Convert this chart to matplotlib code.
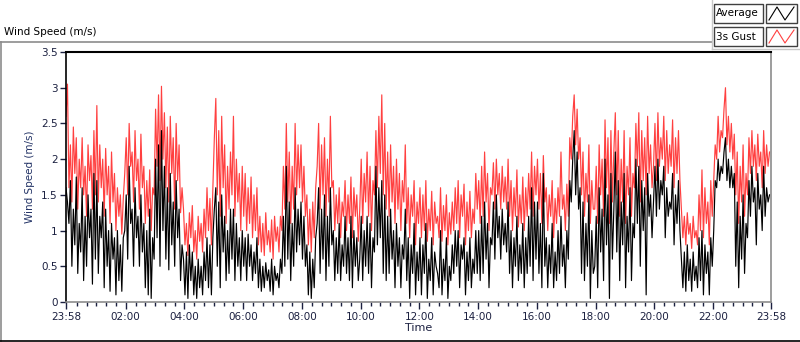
import numpy as np
import matplotlib.pyplot as plt
from matplotlib.patches import Rectangle
from matplotlib.lines import Line2D

# valeurs : un point toutes les 3 min depuis 23:58
# (une ligne = 30 min, 4 lignes = 2 h)
gust = [
    2.6, 3.05, 1.6, 2.2, 1.4, 2.45, 1.8, 2.3, 1.3, 2.0,
    1.6, 2.3, 1.5, 1.9, 1.2, 2.2, 1.7, 2.05, 1.3, 2.4,
    1.5, 2.75, 1.4, 2.2, 1.6, 2.0, 1.2, 2.15, 1.5, 1.9,
    1.1, 2.1, 1.4, 1.8, 1.0, 1.6, 1.2, 1.5, 0.95, 1.45,
    # 02:00
    1.8, 2.3, 1.5, 2.5, 1.9, 2.1, 1.4, 2.4, 1.7, 2.0,
    1.3, 2.35, 1.6, 1.9, 1.1, 1.7, 1.2, 1.85, 1.0, 1.6,
    1.5, 2.7, 1.9, 2.9, 1.7, 3.02, 2.0, 2.65, 1.6, 2.45,
    1.4, 2.6, 1.8, 2.3, 1.3, 2.5, 1.7, 2.2, 1.25, 1.6,
    # 04:00
    1.3, 0.8, 1.1, 0.65, 1.25, 0.9, 1.35, 0.7, 1.0, 0.6,
    1.2, 0.85, 1.1, 0.7, 1.3, 0.9, 1.6, 1.0, 1.45, 0.8,
    1.6, 2.3, 2.85, 1.5, 2.4, 1.2, 2.6, 1.6, 2.2, 1.1,
    1.9, 1.3, 2.1, 1.5, 2.6, 1.2, 2.0, 1.4, 1.8, 1.0,
    # 06:00
    1.9, 1.2, 1.8, 1.0, 1.6, 1.1, 1.75, 0.9, 1.5, 1.0,
    1.6, 0.8, 1.2, 0.7, 1.1, 0.65, 1.25, 0.8, 1.0, 0.7,
    1.15, 0.6, 1.2, 0.85, 1.05, 0.7, 1.2, 1.0, 1.9, 1.3,
    2.5, 1.4, 2.1, 1.1, 1.9, 1.3, 2.5, 1.5, 2.2, 1.6,
    # 08:00
    2.2, 1.4, 1.9, 1.2, 1.5, 0.8, 1.3, 0.7, 1.4, 0.9,
    1.6, 1.9, 2.5, 1.3, 2.2, 1.5, 2.3, 1.2, 2.0, 1.4,
    2.6, 1.6, 1.7, 1.0, 1.5, 1.1, 1.6, 0.9, 1.4, 1.2,
    1.7, 1.0, 1.5, 1.1, 1.75, 0.9, 1.6, 1.2, 1.5, 0.85,
    # 10:00
    1.3, 2.0, 1.1, 1.8, 1.4, 2.1, 1.2, 1.9, 1.0, 1.7,
    1.5, 2.4, 1.6, 2.6, 1.8, 2.9, 1.5, 2.5, 1.3, 2.1,
    1.2, 2.2, 1.4, 1.9, 1.1, 2.0, 1.3, 1.8, 1.0, 1.7,
    1.4, 2.2, 1.1, 1.6, 0.9, 1.5, 1.2, 1.7, 0.8, 1.4,
    # 12:00
    1.1, 1.6, 0.9, 1.5, 1.0, 1.7, 0.85, 1.3, 1.0, 1.55,
    0.8, 1.4, 1.1, 1.2, 0.9, 1.6, 0.85, 1.35, 1.0, 1.5,
    0.8, 1.25, 0.95, 1.4, 1.0, 1.6, 1.1, 1.7, 0.9, 1.5,
    1.2, 1.65, 0.8, 1.4, 1.0, 1.55, 0.9, 1.3, 1.1, 1.8,
    # 14:00
    1.3, 1.7, 1.1, 1.9, 1.2, 2.1, 1.4, 1.8, 1.0, 1.6,
    1.5, 1.95, 1.3, 2.0, 1.5, 1.8, 1.3, 1.9, 1.4, 1.75,
    1.3, 2.0, 1.2, 1.7, 1.0, 1.6, 1.2, 1.85, 1.05, 1.5,
    1.1, 1.75, 1.0, 1.6, 1.2, 1.8, 1.3, 2.1, 1.2, 1.9,
    # 16:00
    1.5, 2.0, 1.3, 1.8, 1.1, 2.05, 1.4, 1.6, 1.0, 1.5,
    1.2, 1.7, 0.9, 1.45, 1.1, 1.6, 1.2, 2.1, 1.3, 1.5,
    1.0, 1.65, 1.2, 2.3, 2.0, 2.6, 2.9, 2.2, 2.7, 2.0,
    2.3, 1.5, 2.1, 1.2, 1.8, 1.4, 2.2, 1.1, 1.7, 1.3,
    # 18:00
    1.3, 1.9, 1.1, 2.2, 1.5, 2.0, 1.2, 2.55, 1.6, 2.3,
    1.1, 2.4, 1.4, 2.1, 2.65, 1.5, 2.4, 1.2, 2.0, 1.4,
    2.4, 1.1, 1.9, 1.5, 2.3, 1.2, 1.8, 1.6, 2.5, 1.9,
    2.65, 1.4, 2.4, 1.7, 2.3, 1.5, 2.6, 1.8, 2.2, 1.6,
    # 20:00
    1.9, 2.5, 1.7, 2.65, 1.9, 2.3, 2.0, 2.6, 1.7, 2.4,
    1.8, 2.2, 1.9, 2.55, 1.6, 2.3, 1.8, 2.4, 1.7, 1.3,
    0.9, 1.2, 0.8, 1.25, 0.95, 1.1, 0.75, 1.2, 0.9, 1.0,
    0.8, 1.5, 1.0, 1.85, 0.9, 1.6, 1.1, 1.4, 0.8, 1.7,
    # 22:00
    1.2, 1.7, 2.2, 2.0, 2.6, 2.1, 2.4, 2.3, 2.7, 3.0,
    2.2, 2.6, 2.1, 2.5, 2.0, 2.35, 1.5, 2.1, 1.1, 1.9,
    1.4, 2.2, 1.2, 1.8, 1.5, 2.3, 1.8, 2.4, 1.9, 2.2,
    1.7, 2.35, 1.9, 2.1, 1.6, 2.4, 1.8, 2.2, 1.9, 2.1,
]

average = [
    1.6, 1.4, 1.1, 1.7, 0.5, 1.3, 0.8, 1.75, 0.4, 1.1,
    0.7, 1.6, 0.3, 1.2, 0.5, 1.5, 0.9, 1.3, 0.25, 1.8,
    0.6, 1.7, 0.4, 1.2, 0.9, 1.4, 0.2, 1.3, 0.5, 1.0,
    0.15, 1.1, 0.6, 0.9, 0.1, 1.0, 0.3, 0.8, 0.15, 0.9,
    # 02:00
    1.0, 1.5, 0.6, 1.9, 1.1, 1.3, 0.5, 1.6, 0.9, 1.2,
    0.5, 1.5, 0.7, 1.1, 0.2, 1.0, 0.1, 1.3, 0.05, 0.9,
    0.6, 2.0, 0.9, 2.2, 0.5, 2.4, 1.0, 1.9, 0.6, 1.6,
    0.45, 1.8, 0.8, 1.4, 0.5, 1.7, 0.9, 1.3, 0.3, 0.8,
    # 04:00
    0.6, 0.1, 0.7, 0.05, 0.8, 0.3, 0.7, 0.1, 0.5, 0.05,
    0.6, 0.2, 0.5, 0.1, 0.7, 0.3, 0.9, 0.2, 0.8, 0.1,
    0.9, 1.3, 1.6, 0.5, 1.4, 0.2, 1.5, 0.7, 1.2, 0.3,
    1.0, 0.4, 1.3, 0.6, 1.3, 0.3, 1.1, 0.5, 0.9, 0.3,
    # 06:00
    1.0, 0.5, 0.9, 0.3, 0.95, 0.5, 0.8, 0.3, 0.7, 0.4,
    0.9, 0.2, 0.6, 0.15, 0.5, 0.2, 0.55, 0.3, 0.45, 0.15,
    0.6, 0.1, 0.5, 0.3, 0.4, 0.2, 0.6, 0.4, 1.2, 0.5,
    1.9, 0.6, 1.4, 0.3, 1.1, 0.5, 1.6, 0.7, 1.3, 0.8,
    # 08:00
    1.4, 0.6, 1.2, 0.5, 0.8, 0.1, 0.7, 0.05, 0.6, 0.2,
    0.9, 1.1, 1.6, 0.4, 1.3, 0.6, 1.5, 0.3, 1.2, 0.5,
    1.6, 0.8, 1.0, 0.3, 0.9, 0.4, 1.1, 0.3, 0.8, 0.5,
    1.2, 0.4, 0.9, 0.3, 1.2, 0.2, 1.0, 0.5, 0.9, 0.3,
    # 10:00
    0.6, 1.2, 0.3, 1.0, 0.5, 1.2, 0.4, 1.1, 0.2, 0.9,
    0.7, 1.9, 0.8, 1.6, 0.9, 1.7, 0.4, 1.5, 0.3, 1.2,
    0.4, 1.3, 0.6, 1.0, 0.2, 1.1, 0.5, 0.9, 0.2, 0.8,
    0.6, 1.3, 0.3, 0.9, 0.05, 0.8, 0.4, 1.1, 0.1, 0.7,
    # 12:00
    0.3, 0.9, 0.1, 0.8, 0.4, 1.1, 0.05, 0.6, 0.3, 0.9,
    0.1, 0.7, 0.5, 0.4, 0.2, 1.0, 0.1, 0.6, 0.3, 0.9,
    0.05, 0.5, 0.3, 0.8, 0.4, 1.0, 0.5, 1.0, 0.2, 0.8,
    0.6, 0.9, 0.1, 0.7, 0.3, 0.9, 0.2, 0.6, 0.4, 1.0,
    # 14:00
    0.4, 1.0, 0.3, 1.2, 0.4, 1.4, 0.6, 1.1, 0.2, 0.9,
    0.8, 1.4, 0.6, 1.5, 0.9, 1.2, 0.6, 1.3, 0.8, 1.1,
    0.7, 1.4, 0.4, 1.0, 0.2, 0.9, 0.5, 1.2, 0.3, 0.8,
    0.4, 1.1, 0.2, 0.9, 0.4, 1.2, 0.5, 1.6, 0.3, 1.4,
    # 16:00
    0.6, 1.4, 0.4, 1.1, 0.2, 1.8, 0.5, 0.9, 0.2, 0.8,
    0.4, 1.1, 0.2, 0.7, 0.3, 1.0, 0.4, 1.2, 0.5, 0.8,
    0.2, 1.0, 0.6, 1.7, 1.4, 2.0, 2.4, 1.5, 2.1, 1.3,
    1.6, 0.4, 1.4, 0.3, 1.1, 0.5, 1.5, 0.05, 1.0, 0.4,
    # 18:00
    0.5, 1.2, 0.2, 1.6, 0.7, 1.3, 0.3, 2.0, 0.8, 1.5,
    0.05, 1.8, 0.6, 1.3, 2.1, 0.7, 1.7, 0.3, 1.4, 0.8,
    1.8, 0.2, 1.2, 0.7, 1.6, 0.3, 1.1, 0.9, 2.0, 1.1,
    1.9, 0.5, 1.7, 1.0, 1.6, 0.1, 1.8, 1.2, 1.5, 0.9,
    # 20:00
    1.4, 1.9, 1.2, 2.0, 1.3, 1.7, 1.5, 1.9, 0.9, 1.6,
    1.2, 1.4, 1.3, 1.8, 0.8, 1.5, 1.1, 1.7, 1.0, 0.6,
    0.2, 0.7, 0.15, 0.8, 0.3, 0.6, 0.15, 0.7, 0.3, 0.5,
    0.2, 0.9, 0.3, 1.0, 0.1, 0.8, 0.4, 0.7, 0.1, 0.9,
    # 22:00
    0.5, 1.0, 1.7, 1.6, 2.0, 1.7, 1.9, 1.8, 2.1, 2.3,
    1.7, 2.0, 1.6, 1.9, 1.6, 1.8, 0.5, 1.4, 0.2, 1.2,
    0.6, 1.5, 0.4, 1.1, 0.9, 1.7, 1.2, 1.9, 1.4, 1.6,
    0.8, 1.8, 1.3, 1.5, 1.0, 1.9, 1.2, 1.6, 1.4, 1.5,
]

step_min = 3
tick_pos = [0, 122, 242, 362, 482, 602, 722, 842, 962, 1082, 1202, 1322, 1440]
tick_labels = ["23:58", "02:00", "04:00", "06:00", "08:00", "10:00", "12:00",
               "14:00", "16:00", "18:00", "20:00", "22:00", "23:58"]
y_ticks = [0, 0.5, 1, 1.5, 2, 2.5, 3, 3.5]
y_labels = ["0", "0.5", "1", "1.5", "2", "2.5", "3", "3.5"]

W, H = 800, 342
text_col = "#1b2040"
red = "#ff4040"
gray = "#8c8c8c"


def fx(x):
    return x / W


def fy(y):
    return 1 - y / H


t_gust = np.arange(len(gust)) * step_min
t_avg = np.arange(len(average)) * step_min

fig = plt.figure(figsize=(W / 100, H / 100), dpi=100)
ax = fig.add_axes([fx(66), fy(302), fx(771) - fx(66), fy(52) - fy(302)])

ax.plot(t_gust, gust, color=red, lw=0.85)
ax.plot(t_avg, average, color="black", lw=0.85)

ax.set_xlim(0, 1440)
ax.set_ylim(0, 3.5)

ax.set_xticks(tick_pos)
ax.set_xticklabels(tick_labels)
ax.set_xticks([m for m in range(22, 1440, 20)], minor=True)
ax.set_yticks(y_ticks)
ax.set_yticklabels(y_labels)

ax.tick_params(axis="x", which="major", length=5, width=1, colors=text_col, labelsize=7.5, pad=2)
ax.tick_params(axis="x", which="minor", length=3, width=1, color=text_col)
ax.tick_params(axis="y", length=4, width=1, colors=text_col, labelsize=7.5, pad=2)

ax.spines["top"].set_color("black")
ax.spines["left"].set_color("black")
ax.spines["top"].set_linewidth(1.5)
ax.spines["left"].set_linewidth(1.2)
ax.spines["right"].set_color(gray)
ax.spines["bottom"].set_color(gray)
ax.spines["right"].set_linewidth(1.2)
ax.spines["bottom"].set_linewidth(1.2)

ax.set_xlabel("Time", fontsize=8, color=text_col, labelpad=1)
ax.set_ylabel("Wind Speed (m/s)", fontsize=7.5, color="#233366", labelpad=4)

# cadre du panneau
fig.add_artist(Line2D([fx(0), fx(712)], [fy(42), fy(42)], color=gray, lw=1.2))
fig.add_artist(Line2D([fx(1), fx(1)], [fy(42), fy(341)], color=gray, lw=1.2))
fig.add_artist(Line2D([fx(0), fx(800)], [fy(341), fy(341)], color="black", lw=1.2))
fig.add_artist(Line2D([fx(712), fx(800)], [fy(49), fy(49)], color="#c8c8c8", lw=1))
fig.add_artist(Line2D([fx(712), fx(712)], [fy(0), fy(49)], color="#c8c8c8", lw=1))

fig.text(fx(4), fy(32), "Wind Speed (m/s)", fontsize=7.5, color="black", va="center", ha="left")

# légende
legend_items = [("Average", "black", 4), ("3s Gust", red, 27)]
for name, col, top in legend_items:
    fig.add_artist(Rectangle((fx(714), fy(top + 19)), fx(763) - fx(714), fy(top) - fy(top + 19),
                             facecolor="white", edgecolor="#404040", lw=1))
    fig.add_artist(Rectangle((fx(766), fy(top + 19)), fx(797) - fx(766), fy(top) - fy(top + 19),
                             facecolor="white", edgecolor="#404040", lw=1))
    fig.text(fx(716), fy(top + 9.5), name, fontsize=7.5, color="black", va="center", ha="left")
    zx = [769, 777, 785, 794]
    zy = [top + 16, top + 3, top + 16, top + 3]
    fig.add_artist(Line2D([fx(v) for v in zx], [fy(v) for v in zy], color=col, lw=0.8))

fig.savefig("out.png", dpi=100)
